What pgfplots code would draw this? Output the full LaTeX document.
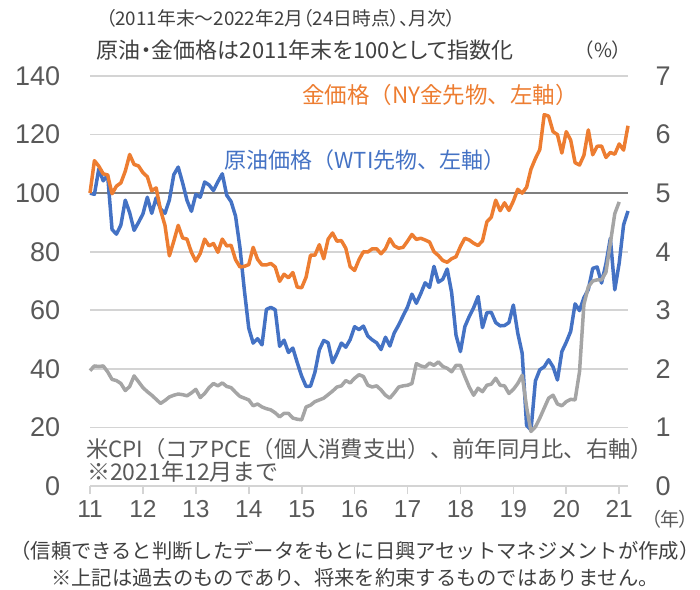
\documentclass[border=0pt]{standalone}
\usepackage{fontspec}
\setmainfont{Noto Sans CJK JP}
\newfontfamily\jpp{Noto Sans CJK JP}[RawFeature=+palt]
\newfontfamily\arial{Liberation Sans}
\usepackage{pgfplots}
\usepackage{pgfplotstable}
\pgfplotsset{compat=1.18}
\definecolor{cgold}{HTML}{ED7D31}
\definecolor{cwti}{HTML}{4472C4}
\definecolor{ccpi}{HTML}{A5A5A5}
\definecolor{ctxt}{HTML}{595959}
\definecolor{cdark}{HTML}{404040}
\colorlet{gridgray}{black!17}
\definecolor{cref}{HTML}{7F7F7F}

\pgfplotstableread{
i v
0 100
1 111.1
2 109.2
3 106.6
4 106.2
5 99.8
6 102.4
7 103.5
8 107.5
9 113.2
10 109.8
11 109.3
12 107
13 105.6
14 100.8
15 101.8
16 94.2
17 89
18 78.6
19 83.6
20 89
21 84.7
22 84.3
23 79.8
24 76.8
25 79.4
26 84.3
27 82
28 82.8
29 79.8
30 84.3
31 82
32 82.2
33 77.3
34 74.8
35 75
36 75.6
37 81.5
38 77.4
39 75.5
40 75.5
41 76
42 74.8
43 69.9
44 72.3
45 71.1
46 72.9
47 67.9
48 67.7
49 71.3
50 78.8
51 78.8
52 82.4
53 77.6
54 84.3
55 86.4
56 83.6
57 83.8
58 81.2
59 74.9
60 73.6
61 77.3
62 80
63 79.9
64 81
65 81
66 79.3
67 81
68 84.4
69 82
70 81.2
71 81.5
72 83.6
73 85.9
74 84.2
75 84.6
76 84
77 83.3
78 80
79 78.7
80 77
81 76.4
82 77.6
83 78.3
84 81.8
85 84.6
86 84
87 82.9
88 82.1
89 83.7
90 90.2
91 91.8
92 97.6
93 94
94 96.7
95 94.1
96 97.3
97 101.3
98 100
99 102
100 108.2
101 111.8
102 114.9
103 126.8
104 126.3
105 121
106 120
107 113.7
108 121
109 118.1
110 110.4
111 109.6
112 112.9
113 121.6
114 113.1
115 116
116 116.1
117 112.2
118 113.9
119 113.3
120 116.8
121 114.7
122 123
}\gold

\pgfplotstableread{
i v
0 100
1 99.6
2 108.3
3 104.2
4 106.1
5 87.6
6 86
7 89.1
8 97.6
9 93.3
10 87.3
11 90
12 92.9
13 98.6
14 93.1
15 98.4
16 94.6
17 93.1
18 97.7
19 106.3
20 108.9
21 103.5
22 97.5
23 93.8
24 99.6
25 98.6
26 103.8
27 102.8
28 100.9
29 103.9
30 106.6
31 99.3
32 97.1
33 92.2
34 81.5
35 66.9
36 53.9
37 48.8
38 50.3
39 48.2
40 60.3
41 61
42 60.2
43 47.7
44 49.8
45 45.6
46 47.1
47 42.1
48 37.5
49 34
50 34.1
51 38.8
52 46.5
53 49.7
54 48.9
55 42.1
56 45.2
57 48.8
58 47.4
59 50
60 54.4
61 53.4
62 54.6
63 51.2
64 49.9
65 48.9
66 46.6
67 50.8
68 47.8
69 52.3
70 55
71 58.1
72 61.1
73 65.5
74 62.4
75 65.7
76 69.4
77 67.8
78 75
79 69.6
80 70.6
81 74.1
82 66.1
83 51.5
84 45.9
85 54.4
86 57.9
87 60.9
88 64.7
89 54.1
90 59.2
91 59.3
92 55.8
93 54.7
94 54.8
95 55.8
96 61.8
97 52.2
98 45.3
99 20.7
100 19.1
101 35.9
102 39.7
103 40.7
104 43.1
105 40.7
106 36.2
107 45.9
108 49.1
109 52.8
110 62.2
111 59.9
112 64.3
113 67.1
114 74.3
115 74.8
116 69.3
117 75.9
118 84.6
119 67
120 76.1
121 89.2
122 93.9
}\wti

\pgfplotstableread{
i v
0 1.97
1 2.05
2 2.04
3 2.05
4 1.95
5 1.82
6 1.80
7 1.75
8 1.63
9 1.70
10 1.88
11 1.78
12 1.68
13 1.61
14 1.55
15 1.48
16 1.41
17 1.46
18 1.52
19 1.55
20 1.57
21 1.56
22 1.54
23 1.59
24 1.65
25 1.51
26 1.58
27 1.68
28 1.75
29 1.71
30 1.76
31 1.70
32 1.68
33 1.60
34 1.53
35 1.50
36 1.47
37 1.37
38 1.40
39 1.35
40 1.32
41 1.30
42 1.25
43 1.18
44 1.24
45 1.24
46 1.16
47 1.14
48 1.13
49 1.35
50 1.38
51 1.44
52 1.47
53 1.50
54 1.56
55 1.62
56 1.69
57 1.71
58 1.80
59 1.76
60 1.84
61 1.90
62 1.87
63 1.72
64 1.69
65 1.71
66 1.64
67 1.55
68 1.50
69 1.59
70 1.69
71 1.71
72 1.72
73 1.75
74 2.09
75 2.05
76 2.03
77 2.10
78 2.06
79 2.12
80 2.04
81 2.01
82 1.95
83 2.06
84 2.06
85 1.87
86 1.69
87 1.55
88 1.67
89 1.61
90 1.72
91 1.74
92 1.84
93 1.72
94 1.71
95 1.58
96 1.65
97 1.75
98 1.89
99 1.35
100 0.93
101 1.01
102 1.16
103 1.33
104 1.50
105 1.55
106 1.40
107 1.37
108 1.44
109 1.48
110 1.47
111 1.95
112 3.10
113 3.40
114 3.50
115 3.52
116 3.52
117 3.65
118 4.15
119 4.65
120 4.85
}\cpi

\begin{document}
\begin{tikzpicture}[x=1pt,y=1pt]
\path[use as bounding box] (0,0) rectangle (700,-589);
\begin{axis}[
  at={(90pt,-486pt)}, anchor=south west,
  width=538pt, height=410pt, scale only axis,
  xmin=0, xmax=122, ymin=0, ymax=140,
  axis x line*=bottom, axis y line*=left,
  separate axis lines,
  x axis line style={draw=gridgray, line width=1.7pt, -},
  y axis line style={draw=none},
  xtick={0,12,...,120},
  xticklabels={11,12,13,14,15,16,17,18,19,20,21},
  ytick={0,20,...,140},
  tick align=outside,
  xtick style={draw=gridgray, line width=1.7pt, /pgfplots/major tick length=8pt},
  ytick style={/pgfplots/major tick length=0pt},
  ymajorgrids=true,
  y grid style={draw=gridgray, line width=1.7pt},
  /pgf/number format/assume math mode=true,
  xticklabel style={font=\arial\fontsize{24.5}{24.5}\selectfont, text=ctxt, yshift=-7pt},
  yticklabel style={font=\arial\fontsize{27}{27}\selectfont, text=ctxt, anchor=east, xshift=-22pt},
  clip=false,
]
\addplot[draw=gridgray, line width=1.7pt, forget plot] coordinates {(0,20) (122,20)};
\addplot[draw=gridgray, line width=1.7pt, forget plot] coordinates {(0,40) (122,40)};
\addplot[draw=gridgray, line width=1.7pt, forget plot] coordinates {(0,60) (122,60)};
\addplot[draw=gridgray, line width=1.7pt, forget plot] coordinates {(0,80) (122,80)};
\addplot[draw=gridgray, line width=1.7pt, forget plot] coordinates {(0,120) (122,120)};
\addplot[draw=gridgray, line width=1.7pt, forget plot] coordinates {(0,140) (122,140)};
\addplot[draw=cref, line width=1.8pt, forget plot] coordinates {(0,100) (122,100)};
\addplot[cwti, line width=3.5pt, line join=round] table[x=i,y=v] {\wti};
\addplot[cgold, line width=3.5pt, line join=round] table[x=i,y=v] {\gold};
\end{axis}
\begin{axis}[
  at={(90pt,-486pt)}, anchor=south west,
  width=538pt, height=410pt, scale only axis,
  xmin=0, xmax=122, ymin=0, ymax=7,
  axis x line=none, axis y line*=right,
  y axis line style={draw=none},
  ytick={0,1,...,7},
  ytick style={draw=none},
  /pgf/number format/assume math mode=true,
  yticklabel style={font=\arial\fontsize{27}{27}\selectfont, text=ctxt, anchor=west, xshift=24pt},
  clip=false,
]
\addplot[ccpi, line width=3.5pt, line join=round] table[x=i,y=v] {\cpi};
\end{axis}
\node[text=cdark, font=\jpp\fontsize{18.8}{18.8}\selectfont] at (281,-18) {（2011年末～2022年2月（24日時点）、月次）};
\node[text=cdark, font=\jpp\fontsize{22}{22}\selectfont] at (305,-50) {原油・金価格は2011年末を100として指数化};
\node[text=cdark, font=\fontsize{19.5}{19.5}\selectfont] at (603,-50) {（\%）};
\node[text=cgold, font=\fontsize{22.5}{22.5}\selectfont] at (440,-95) {金価格（NY金先物、左軸）};
\node[text=cwti, font=\fontsize{22}{22}\selectfont] at (365,-160) {原油価格（WTI先物、左軸）};
\node[text=ctxt, anchor=west, inner sep=0pt, font=\fontsize{22.3}{22.3}\selectfont] at (86,-449) {米CPI（コアPCE（個人消費支出）、前年同月比、右軸）};
\node[text=ctxt, anchor=west, inner sep=0pt, font=\fontsize{23}{23}\selectfont] at (87,-472) {※2021年12月まで};
\node[text=ctxt, font=\jpp\fontsize{19}{19}\selectfont, inner sep=0pt] at (670,-519) {（年）};
\node[text=cdark, font=\fontsize{20.3}{20.3}\selectfont] at (355,-551) {（信頼できると判断したデータをもとに日興アセットマネジメントが作成）};
\node[text=cdark, font=\fontsize{20.3}{20.3}\selectfont] at (355,-578) {※上記は過去のものであり、将来を約束するものではありません。};
\end{tikzpicture}
\end{document}
